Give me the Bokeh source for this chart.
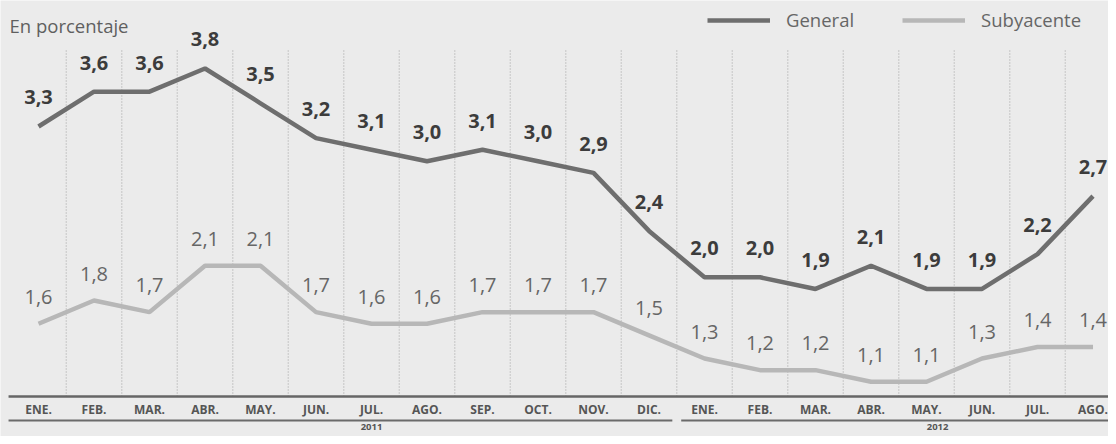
from bokeh.plotting import figure
from bokeh.models import Range1d, ColumnDataSource, Legend, LegendItem, Label
from bokeh.core.properties import value
from bokeh.embed import file_html
from bokeh.resources import INLINE

# ---------------- data ----------------
months = ["ENE.", "FEB.", "MAR.", "ABR.", "MAY.", "JUN.", "JUL.", "AGO.", "SEP.", "OCT.", "NOV.", "DIC.",
          "ENE.", "FEB.", "MAR.", "ABR.", "MAY.", "JUN.", "JUL.", "AGO."]
years = ["2011", "2012"]
year_month_counts = [12, 8]
general = [3.3, 3.6, 3.6, 3.8, 3.5, 3.2, 3.1, 3.0, 3.1, 3.0, 2.9, 2.4,
           2.0, 2.0, 1.9, 2.1, 1.9, 1.9, 2.2, 2.7]
subyacente = [1.6, 1.8, 1.7, 2.1, 2.1, 1.7, 1.6, 1.6, 1.7, 1.7, 1.7, 1.5,
              1.3, 1.2, 1.2, 1.1, 1.1, 1.3, 1.4, 1.4]

# ---------------- layout / style ----------------
W, H = 1108, 436
BG = "#ebebeb"
C_GEN = "#6e6e6e"
C_SUB = "#b7b7b7"
FONT = "Open Sans"

idx = list(range(len(months)))
fmt = lambda v: f"{v:.1f}".replace(".", ",")

X0 = -0.685
X1 = X0 + W / 55.5
Y0, Y1 = 0.628, 4.386
AXIS_Y = 0.972
MONTH_Y = 0.86
YEARLINE_Y = 0.765
YEAR_Y = 0.71
GRID_TOP = 3.972
LINE_START = -0.54

p = figure(width=W, height=H, output_backend="svg", toolbar_location=None,
           x_range=Range1d(X0, X1), y_range=Range1d(Y0, Y1),
           min_border=0, background_fill_color=BG, border_fill_color=BG)
p.xaxis.visible = False
p.yaxis.visible = False
p.grid.visible = False
p.outline_line_color = None

# dotted separators between months
sep_x = [i + 0.5 for i in idx[:-1]]
p.segment(x0=sep_x, y0=[AXIS_Y] * len(sep_x), x1=sep_x, y1=[GRID_TOP] * len(sep_x),
          line_color="#aeaeae", line_width=1.2, line_dash="1 2")

# baseline axis line
p.segment(x0=[LINE_START], y0=[AXIS_Y], x1=[X1], y1=[AXIS_Y], line_color="#666666", line_width=2.5)

# month labels
p.text(x=idx, y=[MONTH_Y] * len(idx), text=months, text_align="center", text_baseline="middle",
       text_font=value(FONT), text_font_style="bold", text_font_size="12px", text_color="#555555")

# year group lines and labels
starts, ends = [], []
s = 0
for n in year_month_counts:
    starts.append(s)
    ends.append(s + n - 1)
    s += n
line_x0 = [LINE_START] + [st - 0.5 + 0.08 for st in starts[1:]]
line_x1 = [en + 0.5 - 0.08 for en in ends[:-1]] + [X1]
p.segment(x0=line_x0, y0=[YEARLINE_Y] * len(years), x1=line_x1, y1=[YEARLINE_Y] * len(years),
          line_color="#6a6a6a", line_width=2)
year_x = [6.0, 16.2]
p.text(x=year_x, y=[YEAR_Y] * len(years), text=years, text_align="center", text_baseline="middle",
       text_font=value(FONT), text_font_style="bold", text_font_size="9.5px", text_color="#555555")

# series lines
src = ColumnDataSource(dict(x=idx, gen=general, sub=subyacente,
                            gen_lbl=[fmt(v) for v in general], sub_lbl=[fmt(v) for v in subyacente]))
r_sub = p.line("x", "sub", source=src, line_color=C_SUB, line_width=4.5)
r_gen = p.line("x", "gen", source=src, line_color=C_GEN, line_width=4.5)

# value labels
p.text("x", "gen", text="gen_lbl", source=src, y_offset=-29, text_align="center", text_baseline="middle",
       text_font=value(FONT), text_font_style="bold", text_font_size="20px", text_color="#3c3c3c")
p.text("x", "sub", text="sub_lbl", source=src, y_offset=-27, text_align="center", text_baseline="middle",
       text_font=value(FONT), text_font_size="20px", text_color="#666666")

# subtitle
p.add_layout(Label(x=9, y=H - 25, x_units="screen", y_units="screen", text="En porcentaje",
                   text_font=FONT, text_font_size="18.5px", text_color="#5f5f5f", text_baseline="middle"))

# legend
legend = Legend(items=[LegendItem(label="General", renderers=[r_gen]),
                       LegendItem(label="Subyacente", renderers=[r_sub])],
                location=(707, H - 32), orientation="horizontal",
                glyph_width=63, glyph_height=20, label_standoff=16, spacing=48,
                padding=0, margin=0, border_line_color=None, background_fill_alpha=0,
                label_text_font=FONT, label_text_font_size="18.5px", label_text_color="#666666",
                label_height=20)
p.add_layout(legend)

open("out.html", "w").write(file_html(p, INLINE))
